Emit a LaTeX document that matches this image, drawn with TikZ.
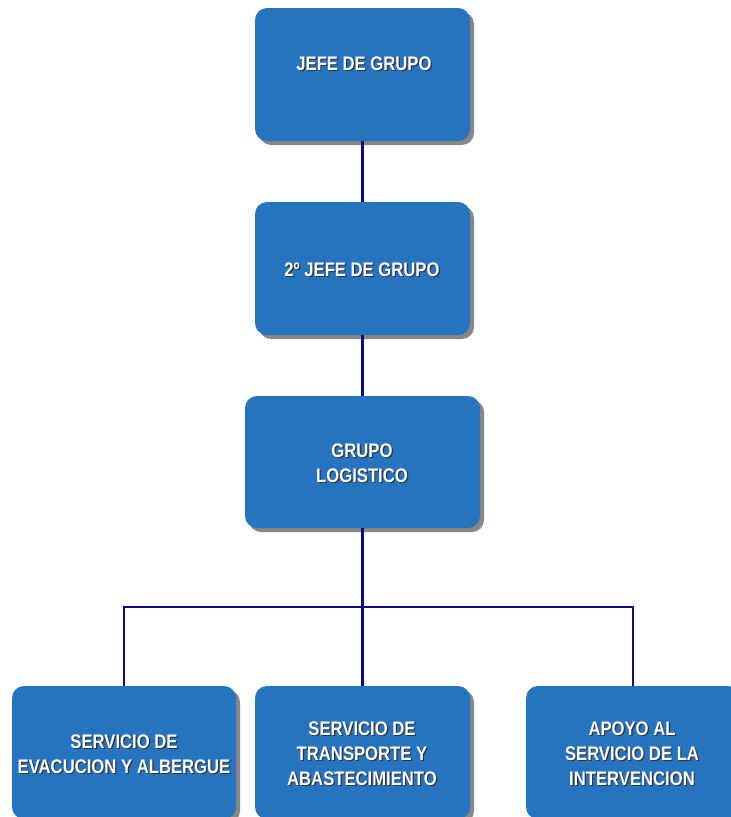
\documentclass[tikz,border=0pt]{standalone}
\usepackage{fontspec}
\setmainfont{Liberation Sans}[FakeStretch=0.85]
\definecolor{boxblue}{RGB}{38,115,192}
\definecolor{linenavy}{RGB}{12,12,135}
\definecolor{shadowgray}{RGB}{135,135,135}
\tikzset{
  orgbox/.style={fill=boxblue, rounded corners=12pt, draw=none, inner sep=0pt, outer sep=0pt, anchor=north west},
  boxshadow/.style={fill=shadowgray, rounded corners=12pt, draw=none, inner sep=0pt, outer sep=0pt, anchor=north west},
  lbl/.style={font=\fontsize{19.6}{25}\selectfont\bfseries, text=white, align=center, inner sep=0pt},
  lblshadow/.style={lbl, text=black!80},
  conn/.style={draw=linenavy, line width=2.3pt},
}
% #1 name, #2 x, #3 y, #4 width, #5 height, #6 text x, #7 text y, #8 text
\newcommand\orgnode[8]{%
  \node[boxshadow, minimum width=#4pt, minimum height=#5pt] (#1s) at (#2+4,#3+4) {};
  \node[orgbox, minimum width=#4pt, minimum height=#5pt] (#1) at (#2,#3) {};
  \node[lblshadow] (#1ts) at (#6+1.2,#7+1.2) {#8};
  \node[lbl] (#1t) at (#6,#7) {#8};
}
\begin{document}
\begin{tikzpicture}[x=1pt,y=-1pt]
  \useasboundingbox (0,0) rectangle (731,817);
  \clip (0,0) rectangle (731,817);
  \orgnode{b1}{255}{8}{215}{133}{364}{64}{JEFE DE GRUPO}
  \orgnode{b2}{255}{202}{215}{133}{362}{270}{2º JEFE DE GRUPO}
  \orgnode{b3}{245}{396}{235}{132}{362}{463}{GRUPO\\LOGISTICO}
  \orgnode{bA}{12}{686}{224}{133}{124}{754}{SERVICIO DE\\EVACUCION Y ALBERGUE}
  \orgnode{bB}{255}{686}{215}{133}{362}{754}{SERVICIO DE\\TRANSPORTE Y\\ABASTECIMIENTO}
  \orgnode{bC}{526}{686}{214}{133}{632}{754}{APOYO AL\\SERVICIO DE LA\\INTERVENCION}
  \coordinate (bus) at (362,607);
  \draw[conn] (b1.south) -- (b2.north);
  \draw[conn] (b2.south) -- (b3.north);
  \draw[conn] (b3.south) -- (bB.north);
  \draw[conn] (bA.north) -- (bA.north |- bus) -- (bC.north |- bus) -- (bC.north);
\end{tikzpicture}
\end{document}
